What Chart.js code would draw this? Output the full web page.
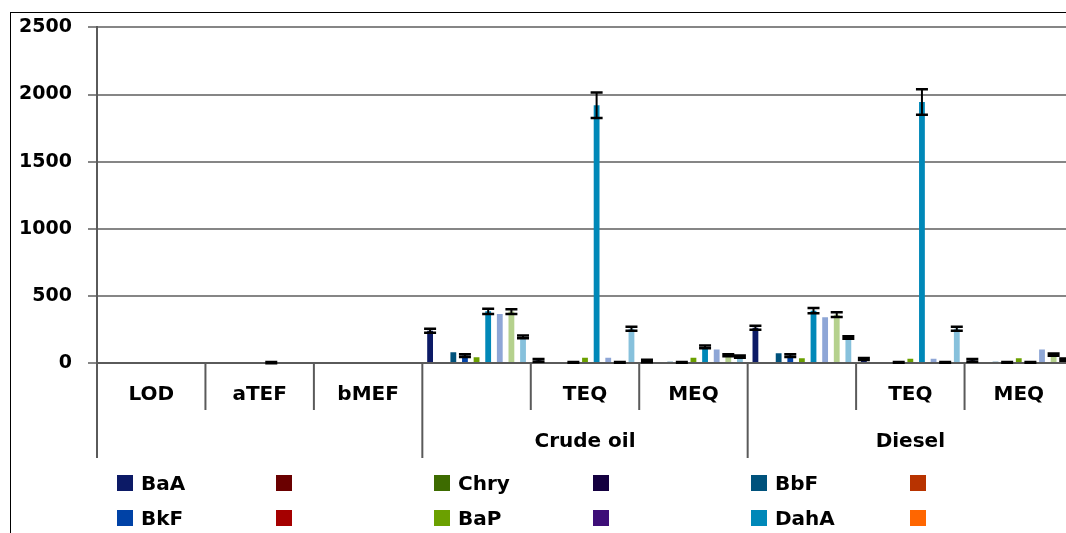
<!DOCTYPE html>
<html>
<head>
<meta charset="utf-8">
<title>PAH equivalents</title>
<script src="https://cdn.jsdelivr.net/npm/chart.js@4/dist/chart.umd.min.js"></script>
<style>
  html, body { margin: 0; padding: 0; background: #fff; overflow: hidden; width: 1066px; height: 533px; }
  #frame { position: absolute; left: 10px; top: 12px; width: 1200px; height: 700px; border: 1px solid #000; box-sizing: border-box; }
  #chart { position: absolute; left: 0; top: 0; }
  #legend { position: absolute; left: 0; top: 0; font: bold 20px "DejaVu Sans", sans-serif; color: #000; }
  .item { position: absolute; height: 20px; display: flex; align-items: center; white-space: nowrap; }
  .box { width: 16px; height: 16px; margin-right: 8px; flex: none; }
</style>
</head>
<body>
<div id="frame"></div>
<canvas id="chart" width="1100" height="533"></canvas>
<div id="legend"></div>
<script>
// Categories on the x axis, with their grouping row underneath
const categories = ['LOD', 'aTEF', 'bMEF', '', 'TEQ', 'MEQ', '', 'TEQ', 'MEQ'];
const groupLabels = ['', 'Crude oil', 'Diesel'];
const groupSpans = [3, 3, 3];

// Y axis ticks
const yTicks = [0, 500, 1000, 1500, 2000, 2500];

// Series values (one entry per category) and their error bars
const baA     = [0, 0, 0, 240, 20, 15, 262, 30, 20];
const baAErr  = [null, null, null, 15, 10, 10, 15, 8, 10];
const chry    = [0, 0, 0, 0, 0, 0, 0, 0, 0];
const bbF     = [0, 0, 0, 80, 0, 10, 72, 0, 10];
const bkF     = [0, 0, 0, 55, 5, 5, 55, 5, 5];
const bkFErr  = [null, null, null, 10, 3, 3, 10, 3, 3];
const baP     = [0, 0, 0, 42, 40, 40, 35, 32, 35];
const dahA    = [0, 3, 0, 385, 1920, 120, 390, 1945, 5];
const dahAErr = [null, 4, null, 20, 95, 10, 20, 95, 3];
const s7      = [0, 0, 0, 365, 40, 100, 340, 32, 100];
const s8      = [0, 0, 0, 383, 5, 58, 360, 5, 62];
const s8Err   = [null, null, null, 18, 3, 8, 18, 3, 8];
const s9      = [0, 0, 0, 195, 255, 48, 190, 255, 25];
const s9Err   = [null, null, null, 10, 15, 8, 10, 15, 8];

// Legend entries, row by row
const legendNames  = ['BaA', '', 'Chry', '', 'BbF', '', 'BkF', '', 'BaP', '', 'DahA', ''];
const legendColors = ['#0C1A66', '#6A0000', '#3D6B00', '#140040', '#00527C', '#B83300',
                      '#0042A6', '#A50000', '#6BA000', '#3E0E78', '#0088B8', '#FF6600'];

const FONT = '"DejaVu Sans", sans-serif';
const GRID = '#868686';
const AXIS = '#5A5A5A';

// Draws error bars over the bars, using the y scale
const errorBars = {
  id: 'errorBars',
  afterDatasetsDraw(chart) {
    const ctx = chart.ctx, y = chart.scales.y;
    chart.data.datasets.forEach((ds, d) => {
      if (!ds.errors) return;
      const meta = chart.getDatasetMeta(d);
      meta.data.forEach((bar, i) => {
        const e = ds.errors[i];
        if (e == null) return;
        const v = ds.data[i];
        const top = y.getPixelForValue(v + e);
        const bot = y.getPixelForValue(v - e);
        ctx.save();
        ctx.strokeStyle = '#000';
        ctx.lineWidth = 2;
        ctx.beginPath();
        ctx.moveTo(bar.x, top); ctx.lineTo(bar.x, bot);
        ctx.stroke();
        ctx.lineWidth = 2.5;
        ctx.beginPath();
        ctx.moveTo(bar.x - 6, top); ctx.lineTo(bar.x + 6, top);
        ctx.moveTo(bar.x - 6, bot); ctx.lineTo(bar.x + 6, bot);
        ctx.stroke();
        ctx.restore();
      });
    });
  }
};

// Two-level category axis: labels, dividers and group names
const groupedAxis = {
  id: 'groupedAxis',
  afterDraw(chart) {
    const ctx = chart.ctx, x = chart.scales.x, ca = chart.chartArea;
    const step = x.getPixelForValue(1) - x.getPixelForValue(0);
    const edge = i => x.getPixelForValue(0) - step / 2 + i * step;
    const groupEdges = [0];
    groupSpans.reduce((acc, s) => { groupEdges.push(acc + s); return acc + s; }, 0);

    ctx.save();
    ctx.strokeStyle = AXIS;
    ctx.lineWidth = 2;
    for (let i = 0; i <= categories.length; i++) {
      const px = edge(i);
      const len = groupEdges.includes(i) ? 95 : 47;
      ctx.beginPath();
      ctx.moveTo(px, ca.bottom);
      ctx.lineTo(px, ca.bottom + len);
      ctx.stroke();
    }
    ctx.fillStyle = '#000';
    ctx.font = 'bold 20px ' + FONT;
    ctx.textAlign = 'center';
    ctx.textBaseline = 'middle';
    categories.forEach((c, i) => {
      ctx.fillText(c, x.getPixelForValue(i), ca.bottom + 32);
    });
    groupLabels.forEach((g, k) => {
      const mid = (edge(groupEdges[k]) + edge(groupEdges[k + 1])) / 2;
      ctx.fillText(g, mid, ca.bottom + 79);
    });
    ctx.restore();
  }
};

const mk = (label, data, color, errors) => ({
  label, data, backgroundColor: color, borderWidth: 0, errors
});

new Chart(document.getElementById('chart'), {
  type: 'bar',
  data: {
    labels: categories,
    datasets: [
      mk('BaA', baA, '#0C1A66', baAErr),
      mk('Chry', chry, '#3D6B00'),
      mk('BbF', bbF, '#00527C'),
      mk('BkF', bkF, '#0042A6', bkFErr),
      mk('BaP', baP, '#6BA000'),
      mk('DahA', dahA, '#0088B8', dahAErr),
      mk('', s7, '#8EA6D6'),
      mk('', s8, '#B5D18D', s8Err),
      mk('', s9, '#87C1DC', s9Err)
    ]
  },
  options: {
    responsive: false,
    animation: false,
    devicePixelRatio: 1,
    layout: { padding: { left: 0, top: 27, right: 27, bottom: 170 } },
    datasets: { bar: { categoryPercentage: 0.964, barPercentage: 0.5 } },
    plugins: { legend: { display: false }, tooltip: { enabled: false } },
    scales: {
      x: { display: false },
      y: {
        min: 0, max: 2500,
        afterFit(scale) { scale.width = 97; },
        afterBuildTicks(scale) { scale.ticks = yTicks.map(v => ({ value: v })); },
        ticks: {
          color: '#000', padding: 16,
          font: { family: FONT, size: 19, weight: 'bold' },
          callback: v => String(v)
        },
        grid: {
          color: c => (c.tick && c.tick.value === 0 ? AXIS : GRID),
          tickColor: GRID,
          lineWidth: 2,
          tickLength: 9
        },
        border: { color: AXIS, width: 2 }
      }
    }
  },
  plugins: [errorBars, groupedAxis]
});

// Legend laid out on a fixed grid of six columns
const legend = document.getElementById('legend');
legendNames.forEach((name, i) => {
  const row = Math.floor(i / 6), col = i % 6;
  const item = document.createElement('div');
  item.className = 'item';
  item.style.left = (117 + col * 158.5) + 'px';
  item.style.top = (473 + row * 35) + 'px';
  const box = document.createElement('span');
  box.className = 'box';
  box.style.background = legendColors[i];
  const text = document.createElement('span');
  text.textContent = name;
  item.appendChild(box);
  item.appendChild(text);
  legend.appendChild(item);
});
</script>
</body>
</html>
